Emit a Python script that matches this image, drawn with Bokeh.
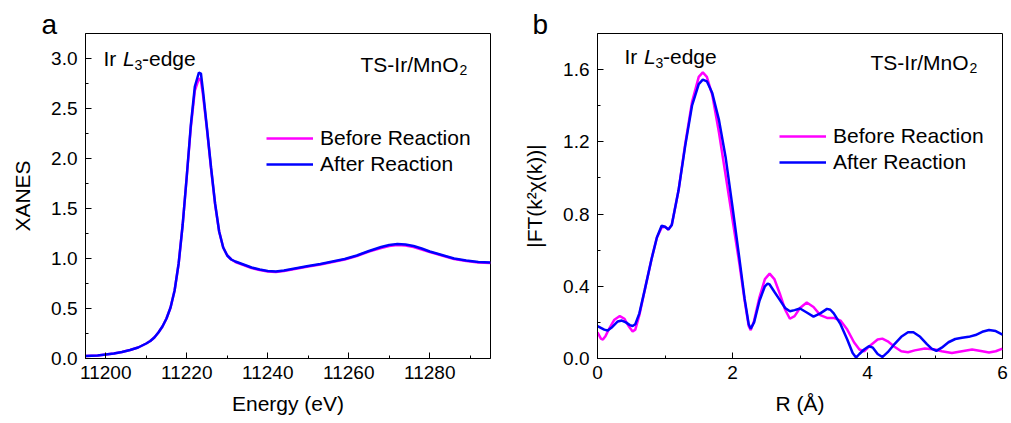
from bokeh.plotting import figure
from bokeh.models import (Range1d, FixedTicker, PrintfTickFormatter, Label,
                          Legend, LegendItem, Title)
from bokeh.layouts import row
from bokeh.embed import file_html
from bokeh.resources import INLINE

# ---------------- data ----------------
energy_ev = [11195, 11198, 11200, 11202, 11204, 11206, 11208, 11210, 11211, 11212,
             11213, 11214, 11215, 11216, 11217, 11218, 11219, 11220, 11221, 11222,
             11223, 11223.5, 11224, 11225, 11226, 11227, 11228, 11229, 11230, 11231,
             11232, 11234, 11236, 11238, 11240, 11242, 11244, 11246, 11248, 11250,
             11253, 11256, 11259, 11262, 11265, 11268, 11270, 11272, 11274, 11276,
             11278, 11280, 11283, 11286, 11289, 11292, 11295]
xanes_before = [0.025, 0.03, 0.04, 0.05, 0.065, 0.085, 0.11, 0.15, 0.175, 0.21,
                0.26, 0.32, 0.40, 0.51, 0.68, 0.95, 1.34, 1.82, 2.31, 2.68,
                2.80, 2.78, 2.64, 2.29, 1.90, 1.54, 1.27, 1.11, 1.03, 0.99,
                0.965, 0.935, 0.905, 0.885, 0.87, 0.865, 0.875, 0.89, 0.905, 0.92,
                0.94, 0.965, 0.99, 1.025, 1.07, 1.105, 1.125, 1.135, 1.13, 1.115,
                1.09, 1.065, 1.03, 0.995, 0.975, 0.96, 0.955]
xanes_after = [0.025, 0.03, 0.04, 0.05, 0.065, 0.085, 0.11, 0.15, 0.175, 0.21,
               0.26, 0.32, 0.40, 0.51, 0.68, 0.95, 1.34, 1.82, 2.33, 2.72,
               2.86, 2.85, 2.68, 2.30, 1.91, 1.55, 1.27, 1.11, 1.03, 0.99,
               0.97, 0.94, 0.91, 0.89, 0.875, 0.87, 0.88, 0.895, 0.91, 0.925,
               0.945, 0.97, 0.995, 1.03, 1.075, 1.115, 1.135, 1.145, 1.14, 1.125,
               1.10, 1.07, 1.035, 1.00, 0.98, 0.965, 0.96]

r_before = [0.00, 0.05, 0.08, 0.12, 0.18, 0.25, 0.33, 0.40, 0.46, 0.52,
            0.56, 0.62, 0.70, 0.80, 0.88, 0.95, 1.00, 1.05, 1.10, 1.20,
            1.30, 1.40, 1.50, 1.56, 1.62, 1.70, 1.80, 1.90, 2.00, 2.10,
            2.18, 2.24, 2.27, 2.32, 2.40, 2.48, 2.55, 2.62, 2.70, 2.78,
            2.85, 2.92, 3.00, 3.10, 3.20, 3.30, 3.40, 3.50, 3.60, 3.70,
            3.80, 3.88, 3.95, 4.05, 4.15, 4.22, 4.30, 4.40, 4.50, 4.60,
            4.70, 4.85, 5.00, 5.10, 5.25, 5.40, 5.55, 5.70, 5.80, 5.90, 6.00]
ft_before = [0.145, 0.11, 0.105, 0.125, 0.17, 0.215, 0.235, 0.22, 0.18, 0.15,
             0.16, 0.24, 0.38, 0.55, 0.67, 0.725, 0.73, 0.715, 0.74, 0.93,
             1.19, 1.42, 1.56, 1.585, 1.56, 1.46, 1.25, 1.01, 0.77, 0.53,
             0.32, 0.18, 0.157, 0.21, 0.34, 0.44, 0.47, 0.44, 0.36, 0.27,
             0.22, 0.235, 0.28, 0.31, 0.285, 0.24, 0.225, 0.225, 0.21, 0.16,
             0.09, 0.05, 0.04, 0.075, 0.105, 0.11, 0.095, 0.065, 0.04, 0.035,
             0.045, 0.055, 0.05, 0.04, 0.03, 0.04, 0.05, 0.04, 0.033, 0.04, 0.055]

r_after = [0.00, 0.05, 0.10, 0.15, 0.22, 0.30, 0.36, 0.42, 0.48, 0.52,
           0.56, 0.62, 0.70, 0.80, 0.88, 0.95, 1.00, 1.05, 1.10, 1.20,
           1.30, 1.40, 1.50, 1.56, 1.62, 1.70, 1.80, 1.90, 2.00, 2.10,
           2.18, 2.24, 2.27, 2.32, 2.40, 2.48, 2.52, 2.55, 2.62, 2.70,
           2.78, 2.85, 2.92, 3.00, 3.10, 3.20, 3.30, 3.40, 3.45, 3.50,
           3.60, 3.70, 3.78, 3.83, 3.88, 3.95, 4.02, 4.08, 4.15, 4.22,
           4.30, 4.40, 4.50, 4.60, 4.68, 4.78, 4.88, 4.95, 5.02, 5.10,
           5.20, 5.30, 5.40, 5.50, 5.60, 5.70, 5.80, 5.90, 6.00]
ft_after = [0.18, 0.17, 0.16, 0.155, 0.175, 0.205, 0.21, 0.20, 0.185, 0.18,
            0.19, 0.25, 0.38, 0.55, 0.67, 0.735, 0.73, 0.715, 0.74, 0.93,
            1.18, 1.40, 1.52, 1.545, 1.535, 1.47, 1.32, 1.11, 0.84, 0.56,
            0.33, 0.19, 0.165, 0.20, 0.32, 0.40, 0.415, 0.41, 0.37, 0.325,
            0.28, 0.262, 0.268, 0.277, 0.255, 0.232, 0.25, 0.275, 0.27, 0.25,
            0.19, 0.105, 0.03, 0.005, 0.025, 0.05, 0.068, 0.06, 0.025, 0.008,
            0.035, 0.08, 0.12, 0.145, 0.145, 0.12, 0.08, 0.055, 0.042, 0.06,
            0.09, 0.108, 0.115, 0.12, 0.13, 0.148, 0.158, 0.152, 0.132]

xanes_xticks = [11200, 11220, 11240, 11260, 11280]
xanes_xminor = [11210, 11230, 11250, 11270, 11290]
xanes_yticks = [0.0, 0.5, 1.0, 1.5, 2.0, 2.5, 3.0]
xanes_yminor = [0.25, 0.75, 1.25, 1.75, 2.25, 2.75]
ft_xticks = [0, 2, 4, 6]
ft_xminor = [1, 3, 5]
ft_yticks = [0.0, 0.4, 0.8, 1.2, 1.6]
ft_yminor = [0.2, 0.6, 1.0, 1.4]

series_labels = ["Before Reaction", "After Reaction"]
series_colors = ["#FF00FF", "#0000FF"]
panel_letters = ["a", "b"]

FONT = "Liberation Sans"
TOP, FRAME_H, FRAME_W = 33, 325, 405
DY = -8  # baseline correction for annotation labels (pixels)


def make_fig(width, bl, br, xr, yr, xlabel, ylabel, xt, xm, yt, ym, xfmt, yfmt,
             letter, letter_x):
    p = figure(width=width, height=423, output_backend="svg", toolbar_location=None,
               x_range=Range1d(*xr), y_range=Range1d(*yr),
               min_border_left=bl, min_border_right=br,
               min_border_top=TOP, min_border_bottom=423 - TOP - FRAME_H)
    p.title = Title(text=letter, align="left", offset=-(bl - letter_x),
                    standoff=-12, text_font=FONT, text_font_size="28px",
                    text_font_style="normal", text_color="black", vertical_align="bottom")
    p.xgrid.visible = False
    p.ygrid.visible = False
    p.outline_line_color = "black"
    p.outline_line_width = 1
    p.outline_line_alpha = 1
    p.xaxis.ticker = FixedTicker(ticks=xt, minor_ticks=xm)
    p.yaxis.ticker = FixedTicker(ticks=yt, minor_ticks=ym)
    p.xaxis.formatter = PrintfTickFormatter(format=xfmt)
    p.yaxis.formatter = PrintfTickFormatter(format=yfmt)
    p.xaxis.axis_label = xlabel
    p.yaxis.axis_label = ylabel
    for ax in (p.xaxis[0], p.yaxis[0]):
        ax.major_tick_in = 6
        ax.major_tick_out = 0
        ax.minor_tick_in = 3
        ax.minor_tick_out = 0
        ax.axis_line_color = "black"
        ax.major_tick_line_color = "black"
        ax.minor_tick_line_color = "black"
        ax.major_label_text_font = FONT
        ax.major_label_text_font_size = "19px"
        ax.major_label_text_color = "black"
        ax.axis_label_text_font = FONT
        ax.axis_label_text_font_size = "21px"
        ax.axis_label_text_font_style = "normal"
        ax.axis_label_text_color = "black"
    p.xaxis.major_label_standoff = 7
    p.xaxis.axis_label_standoff = 10
    p.yaxis.major_label_standoff = 8
    p.yaxis.axis_label_standoff = 14
    return p


def add_lines(p, xs_list, ys_list, loc):
    rends = []
    for xs, ys, c in zip(xs_list, ys_list, series_colors):
        rends.append(p.line(xs, ys, line_color=c, line_width=2.5))
    leg = Legend(items=[LegendItem(label=l, renderers=[r]) for l, r in zip(series_labels, rends)],
                 location=loc, padding=0, margin=0, spacing=0,
                 glyph_width=47, glyph_height=26, label_height=26, label_standoff=7,
                 border_line_alpha=0, background_fill_alpha=0,
                 label_text_font=FONT, label_text_font_size="21px", label_text_color="black")
    p.add_layout(leg)


def add_text(p, conv, items):
    cx, cy = conv
    for px, py, txt, size, style, align in items:
        p.add_layout(Label(x=cx(px), y=cy(py + DY), text=txt, text_font=FONT,
                           text_font_size=size, text_font_style=style,
                           text_align=align, text_baseline="alphabetic",
                           text_color="black"))


# ---------------- panel a ----------------
XA = (11195, 11295)
YA = (0, 3.25)
p1 = make_fig(510, 85, 20, XA, YA, "Energy (eV)", "XANES",
              xanes_xticks, xanes_xminor, xanes_yticks, xanes_yminor, "%d", "%.1f",
              panel_letters[0], 41)
add_lines(p1, [energy_ev, energy_ev], [xanes_before, xanes_after], (181, 181))


def xa(px):
    return XA[0] + (px - 85) / FRAME_W * (XA[1] - XA[0])


def ya(py):
    return YA[0] + (TOP + FRAME_H - py) / FRAME_H * (YA[1] - YA[0])


add_text(p1, (xa, ya), [
    (103, 66, "Ir ", "21px", "normal", "left"),
    (122.5, 66, "L", "21px", "italic", "left"),
    (134, 72, "3", "14px", "normal", "left"),
    (141.5, 66, "-edge", "21px", "normal", "left"),
    (458, 72, "TS-Ir/MnO", "21px", "normal", "right"),
    (459, 77, "2", "14px", "normal", "left"),
])

# ---------------- panel b ----------------
XB = (0, 6)
YB = (0, 1.8)
p2 = make_fig(501, 87, 9, XB, YB, "R (Å)", "|FT(k²χ(k))|",
              ft_xticks, ft_xminor, ft_yticks, ft_yminor, "%d", "%.1f",
              panel_letters[1], 22)
add_lines(p2, [r_before, r_after], [ft_before, ft_after], (182, 183))


def xb(px):
    return XB[0] + (px - 597) / FRAME_W * (XB[1] - XB[0])


def yb(py):
    return YB[0] + (TOP + FRAME_H - py) / FRAME_H * (YB[1] - YB[0])


add_text(p2, (xb, yb), [
    (624, 64, "Ir ", "21px", "normal", "left"),
    (643.5, 64, "L", "21px", "italic", "left"),
    (655, 70, "3", "14px", "normal", "left"),
    (662.5, 64, "-edge", "21px", "normal", "left"),
    (968, 70, "TS-Ir/MnO", "21px", "normal", "right"),
    (969, 75, "2", "14px", "normal", "left"),
])

layout = row(p1, p2)
open("out.html", "w").write(file_html(layout, INLINE))
